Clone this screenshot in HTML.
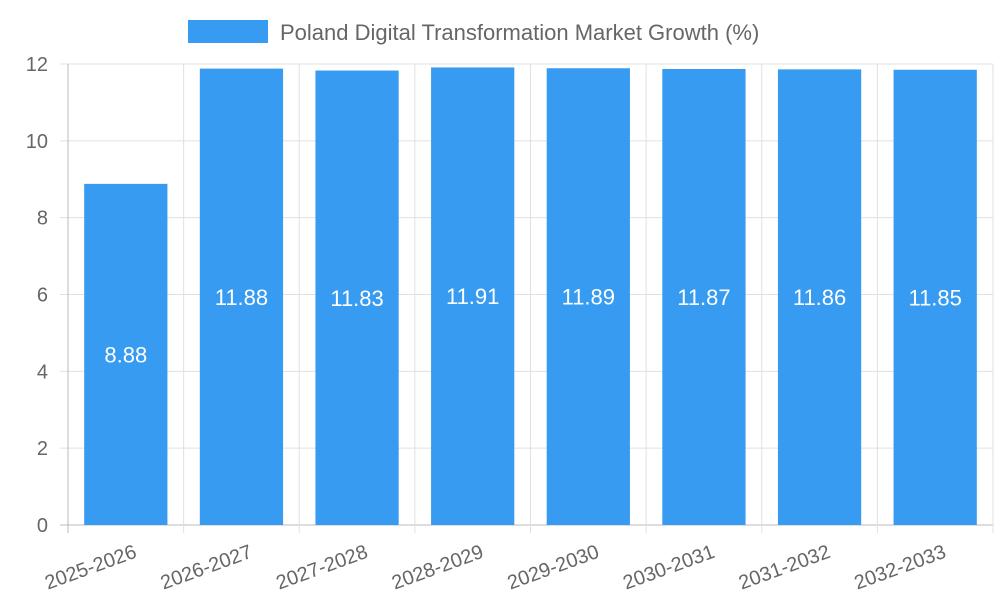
<!DOCTYPE html>
<html><head><meta charset="utf-8"><style>
html,body{margin:0;padding:0;background:#fff;}
svg{display:block;font-family:"Liberation Sans",Arial,sans-serif;}
</style></head><body>
<svg id="chart" width="1000" height="600">
<g>
<rect x="188" y="20" width="80" height="23" fill="#379bf1"></rect>
<text x="280" y="40" font-size="22" fill="#666">Poland Digital Transformation Market Growth (%)</text>
</g>
<g id="grid"></g>
<g id="bars"></g>
<g id="axes"></g>
</svg>
<script>
const categories=["2025-2026","2026-2027","2027-2028","2028-2029","2029-2030","2030-2031","2031-2032","2032-2033"];
const values=[8.88,11.88,11.83,11.91,11.89,11.87,11.86,11.85];
const yTicks=[0,2,4,6,8,10,12];
const NS="http://www.w3.org/2000/svg";
const L=68,R=993,T=64,B=525,yMax=12;
const bw=(R-L)/categories.length;
const x=i=>L+i*bw;
const y=v=>B-(v/yMax)*(B-T);
function mk(tag,attrs,parent){const e=document.createElementNS(NS,tag);for(const k in attrs)e.setAttribute(k,attrs[k]);parent.appendChild(e);return e;}
const grid=document.getElementById('grid'),bars=document.getElementById('bars'),axes=document.getElementById('axes');
yTicks.forEach(t=>{
 const g=mk('line',{x1:L-8,x2:R,y1:y(t),y2:y(t),stroke:t===0?'#bbb':'#e0e0e0','stroke-width':1},grid);
 
 
 const tx=mk('text',{x:L-20,y:y(t)+7,'text-anchor':'end','font-size':20,fill:'#666'},axes);
 tx.textContent=t;
 
 
});
for(let i=0;i<=categories.length;i++){
 const g=mk('line',{x1:x(i),x2:x(i),y1:T,y2:B+8,stroke:i===0?'#bbb':'#e0e0e0','stroke-width':1},grid);
 
 
}
categories.forEach((c,i)=>{
 const w=bw*0.72,cx=x(i)+bw/2;
 const r=mk('rect',{x:cx-w/2,y:y(values[i]),width:w,height:B-y(values[i]),fill:'#379bf1'},bars);
 
 
 const vl=mk('text',{x:cx,y:(y(values[i])+B)/2+8,'text-anchor':'middle','font-size':22,fill:'#fff'},bars);
 vl.textContent=values[i].toFixed(2);
 
 
 const xl=mk('text',{x:cx+12,y:B+32,'text-anchor':'end','font-size':20,fill:'#666',transform:`rotate(-20 ${cx+12} ${B+32})`},axes);
 xl.textContent=c;
 
 
});
</script>
</body></html>
